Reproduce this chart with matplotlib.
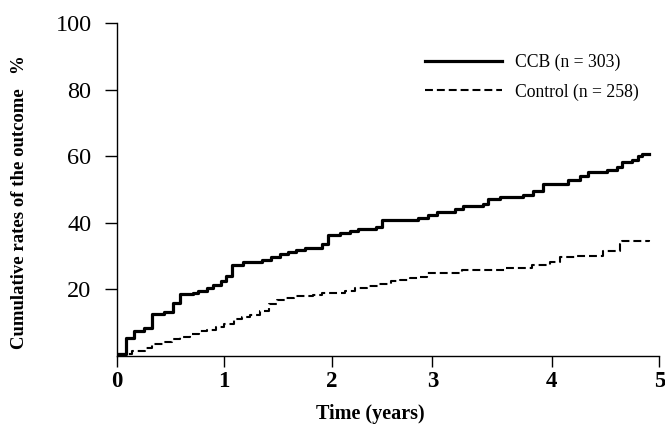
import numpy as np
import matplotlib
matplotlib.use("Agg")
from matplotlib import pyplot as plt

plt.rcParams['font.family'] = ['Liberation Serif', 'DejaVu Serif']

# step times (years) and cumulative rates (%)
ccb_t = [0.0, 0.092, 0.157, 0.249, 0.331, 0.433, 0.516, 0.589, 0.709, 0.755,
         0.838, 0.893, 0.958, 1.013, 1.068, 1.169, 1.344, 1.427, 1.510, 1.584,
         1.657, 1.740, 1.897, 1.952, 2.063, 2.155, 2.228, 2.394, 2.449, 2.781,
         2.873, 2.956, 3.122, 3.195, 3.379, 3.425, 3.536, 3.748, 3.840, 3.932,
         4.162, 4.273, 4.346, 4.521, 4.613, 4.659, 4.751, 4.807, 4.843, 4.908]
ccb_v = [0.6, 5.4, 7.3, 8.4, 12.6, 13.0, 15.7, 18.4, 18.8, 19.4,
         20.5, 21.4, 22.6, 24.1, 27.4, 28.1, 28.7, 29.6, 30.5, 31.1,
         31.8, 32.4, 33.6, 36.2, 36.8, 37.5, 38.0, 38.6, 40.8, 41.4,
         42.2, 43.1, 44.1, 44.9, 45.7, 47.2, 47.7, 48.4, 49.5, 51.7,
         52.9, 53.9, 55.2, 55.7, 56.7, 58.2, 58.9, 59.9, 60.7, 60.7]

ctrl_t = [0.0, 0.145, 0.267, 0.329, 0.433, 0.513, 0.589, 0.681, 0.758, 0.835,
          0.912, 0.988, 1.080, 1.157, 1.234, 1.326, 1.402, 1.480, 1.556, 1.633,
          1.814, 1.894, 2.109, 2.201, 2.308, 2.413, 2.532, 2.615, 2.707, 2.781,
          2.864, 3.186, 3.582, 3.831, 3.996, 4.088, 4.245, 4.484, 4.641, 4.659,
          4.908]
ctrl_v = [0.5, 1.5, 2.2, 3.5, 4.2, 5.0, 5.7, 6.5, 7.3, 7.7,
          8.7, 9.5, 11.0, 11.7, 12.3, 13.3, 15.6, 16.6, 17.3, 17.8,
          18.3, 18.8, 19.4, 20.4, 21.1, 21.6, 22.5, 22.8, 23.4, 23.8,
          25.0, 25.8, 26.4, 27.4, 28.1, 29.6, 30.1, 31.6, 33.6, 34.6,
          34.8]

labels = ["CCB (n = 303)", "Control (n = 258)"]
# tick spacing in the original is not quite even
x_tick_pos = [0, 0.990, 1.985, 2.909, 4.009, 5.0]
x_tick_lab = ["0", "1", "2", "3", "4", "5"]
y_ticks = [20, 40, 60, 80, 100]

fig = plt.figure(figsize=(6.65, 4.26), dpi=100)
ax = fig.add_axes([0.1752, 0.165, 0.8163, 0.781])

ax.step(ccb_t, ccb_v, where='post', color='black', lw=2.3,
        label=labels[0])
ax.step(ctrl_t, ctrl_v, where='post', color='black', lw=1.5,
        linestyle=(0, (3.8, 1.9)), label=labels[1])

ax.set_xlim(0, 5)
ax.set_ylim(0, 100)
ax.set_xticks(x_tick_pos)
ax.set_xticklabels(x_tick_lab, fontsize=16.5, fontweight='bold')
ax.set_yticks(y_ticks)
ax.set_yticklabels([str(v) for v in y_ticks], fontsize=17.5)
ax.tick_params(axis='x', direction='out', length=8, width=1, pad=3)
ax.tick_params(axis='y', direction='out', length=9, width=1, pad=9)

for s in ['top', 'right']:
    ax.spines[s].set_visible(False)
for s in ['left', 'bottom']:
    ax.spines[s].set_linewidth(1)
ax.margins(0)

ax.set_xlabel("Time (years)", fontsize=14.5, fontweight='bold')
ax.xaxis.set_label_coords(0.467, -0.146)
ax.set_ylabel("Cumulative rates of the outcome   %", fontsize=13.5,
              fontweight='bold')
ax.yaxis.set_label_coords(-0.163, 0.461)

ax.legend(loc='upper left', bbox_to_anchor=(0.556, 0.928), frameon=False,
          fontsize=12.7, handlelength=4.35, handletextpad=0.75,
          labelspacing=0.68, borderaxespad=0)

fig.savefig("out.png", dpi=100)
